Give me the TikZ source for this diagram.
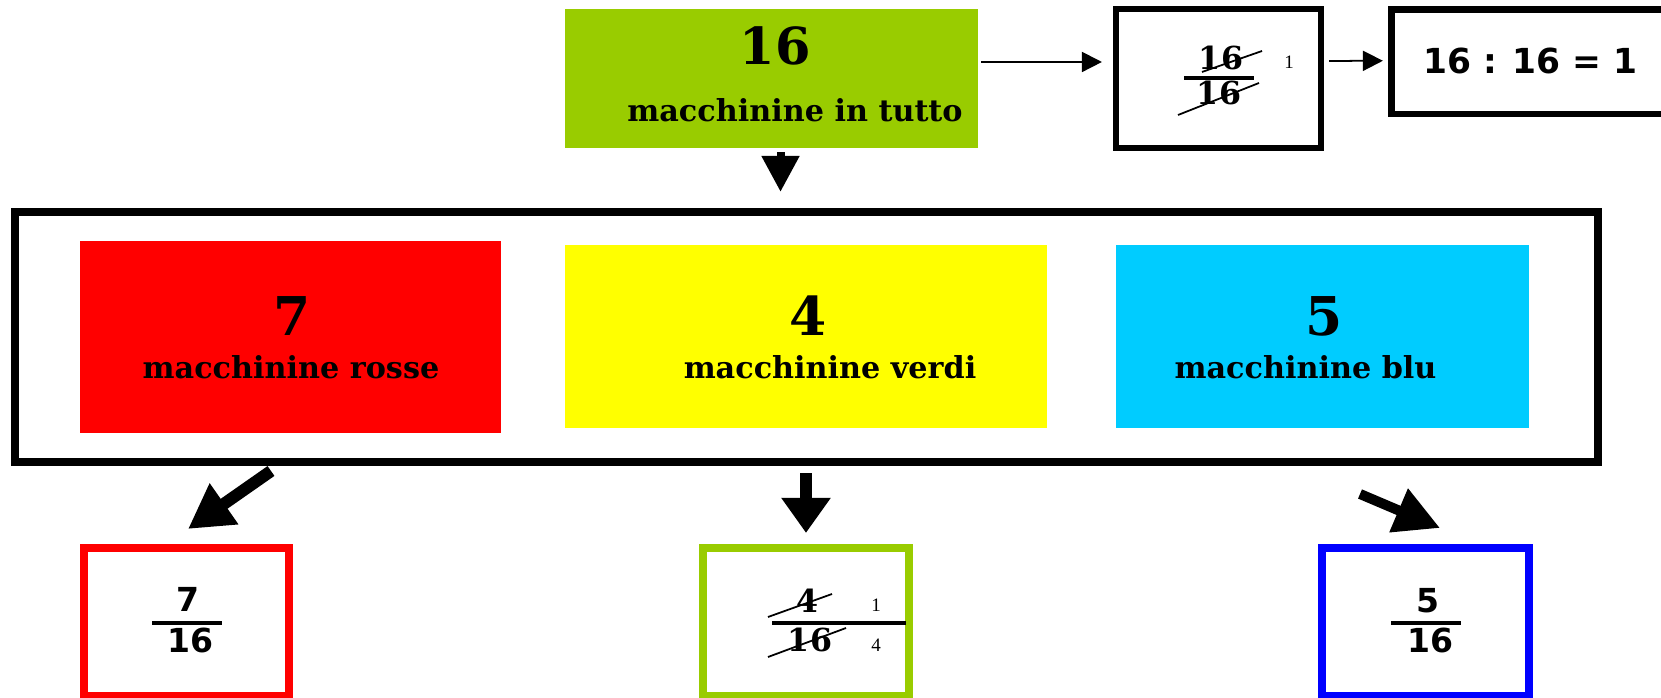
\documentclass[tikz,border=0pt]{standalone}
\usepackage{fontspec}
\setmainfont{DejaVu Serif}
\newfontfamily\sansfont{DejaVu Sans}
\newfontfamily\timesfont{Liberation Serif}
\usetikzlibrary{arrows.meta}
\definecolor{verdemela}{HTML}{99CC00}
\definecolor{rosso}{HTML}{FF0000}
\definecolor{giallo}{HTML}{FFFF00}
\definecolor{azzurro}{HTML}{00CCFF}
\definecolor{blu}{HTML}{0000FF}
\begin{document}
\begin{tikzpicture}[x=0.01cm,y=-0.01cm]
		\tikzstyle{scatola}=[rectangle,inner sep=0pt,outer sep=0pt]
		\tikzstyle{cornice}=[scatola,draw=black,line width=0.08cm]
		\tikzstyle{cifra}=[inner sep=0pt,anchor=base,font=\bfseries\fontsize{15.2}{17}\selectfont]
		\tikzstyle{etichetta}=[inner sep=0pt,anchor=base,font=\bfseries\fontsize{8.6}{10}\selectfont]
		\tikzstyle{frazsans}=[inner sep=0pt,anchor=base,font=\sansfont\bfseries\fontsize{9.4}{11}\selectfont]
		\tikzstyle{frazserif}=[inner sep=0pt,anchor=base,font=\bfseries\fontsize{9}{10}\selectfont]
		\tikzstyle{piccolo}=[inner sep=0pt,anchor=base,font=\timesfont\fontsize{5.4}{6}\selectfont]
		\tikzstyle{freccina}=[line width=0.5pt,-{Triangle[length=0.2cm,width=0.2cm]}]
		\tikzstyle{freccione}=[line width=0.12cm,-{Triangle[length=0.44cm,width=0.47cm]}]
		\tikzstyle{barra}=[line width=1pt]
		\tikzstyle{taglio}=[line width=0.5pt]
	\useasboundingbox (0,0) rectangle (1661,698);
	% riga in alto
	\node[scatola,fill=verdemela,minimum width=4.13cm,minimum height=1.39cm] (tutte) at (771.5,78.5) {};
	\node[cifra,font=\bfseries\fontsize{14.5}{16}\selectfont] (n16) at (775,65) {16};
	\node[etichetta] (lbltutte) at (795,122) {macchinine in tutto};
	\node[scatola,draw,line width=0.06cm,minimum width=2.05cm,minimum height=1.39cm] (semplifica) at (1218.5,78.5) {};
	\node[frazserif] (snum) at (1221,70) {16};
	\node[frazserif] (sden) at (1219,105) {16};
	\node[piccolo] (suno) at (1289,69) {1};
	\draw[barra] (1184,78) -- (1254,78);
	\draw[taglio] (1202,72) -- (1262,51) (1178,115) -- (1259,83);
	\node[scatola,draw,line width=0.065cm,minimum width=2.725cm,minimum height=1.045cm] (divisione) at (1527.75,61.75) {};
	\node[frazsans,font=\sansfont\bfseries\fontsize{9.8}{11}\selectfont] (conto) at (1530.5,74) {16 : 16 = 1};
	\draw[freccina,shorten <=0.03cm,shorten >=0.14cm] ([yshift=0.165cm]tutte.east) -- ([yshift=0.165cm]semplifica.west);
	\draw[freccina,shorten <=0.08cm,shorten >=0.085cm] ([yshift=0.175cm]semplifica.east) -- ([yshift=0.01cm]divisione.west);
	% gruppi di macchinine
	\node[cornice,minimum width=15.83cm,minimum height=2.5cm] (gruppi) at (806.5,337) {};
	\coordinate (giu) at ([xshift=0.09cm,yshift=-0.04cm]tutte.south);
	\draw[line width=0.08cm,-{Triangle[length=0.36cm,width=0.36cm]},shorten >=0.2cm] (giu) -- (giu |- gruppi.north);
	\node[scatola,fill=rosso,minimum width=4.21cm,minimum height=1.92cm] (rosse) at (290.5,337) {};
	\node[scatola,fill=giallo,minimum width=4.82cm,minimum height=1.83cm] (verdi) at (806,336.5) {};
	\node[scatola,fill=azzurro,minimum width=4.13cm,minimum height=1.83cm] (blu) at (1322.5,336.5) {};
	\node[cifra] (n7) at (292,336) {7};
	\node[etichetta] (lblrosse) at (291,379) {macchinine rosse};
	\node[cifra] (n4) at (808,336) {4};
	\node[etichetta] (lblverdi) at (830,379) {macchinine verdi};
	\node[cifra] (n5) at (1324.5,336) {5};
	\node[etichetta] (lblblu) at (1305.5,379) {macchinine blu};
	% frazioni in basso
	\node[cornice,draw=rosso,minimum width=2.05cm,minimum height=1.48cm] (frazrosse) at (186.5,622) {};
	\node[cornice,draw=verdemela,minimum width=2.06cm,minimum height=1.48cm] (frazverdi) at (806,622) {};
	\node[cornice,draw=blu,minimum width=2.07cm,minimum height=1.48cm] (frazblu) at (1425.5,622) {};
	\node[frazsans] (r7) at (188,612) {7};
	\node[frazsans] (r16) at (190,653) {16};
	\draw[barra] (152,623) -- (222,623);
	\node[frazserif] (v4) at (807,613) {4};
	\node[frazserif] (v16) at (810,652) {16};
	\node[piccolo] (vuno) at (876,612) {1};
	\node[piccolo] (vquattro) at (876,652) {4};
	\draw[barra] (772,623) -- (906,623);
	\draw[taglio] (768,617) -- (832,594) (768,657) -- (846,628);
	\node[frazsans] (b5) at (1427.5,613) {5};
	\node[frazsans] (b16) at (1430,653) {16};
	\draw[barra] (1391,623) -- (1461,623);
	\coordinate (cr) at (271,471);
	\coordinate (pr) at (188,529);
	\coordinate (cb) at (1360,494);
	\coordinate (pb) at (1440,528);
	\draw[freccione] (cr) -- (pr);
	\draw[freccione,line width=0.125cm,-{Triangle[length=0.35cm,width=0.47cm]},shorten <=0.11cm,shorten >=0.15cm] (gruppi.south -| frazverdi) -- (frazverdi.north);
	\draw[freccione,line width=0.1cm,-{Triangle[length=0.45cm,width=0.45cm]}] (cb) -- (pb);
\end{tikzpicture}
\end{document}
